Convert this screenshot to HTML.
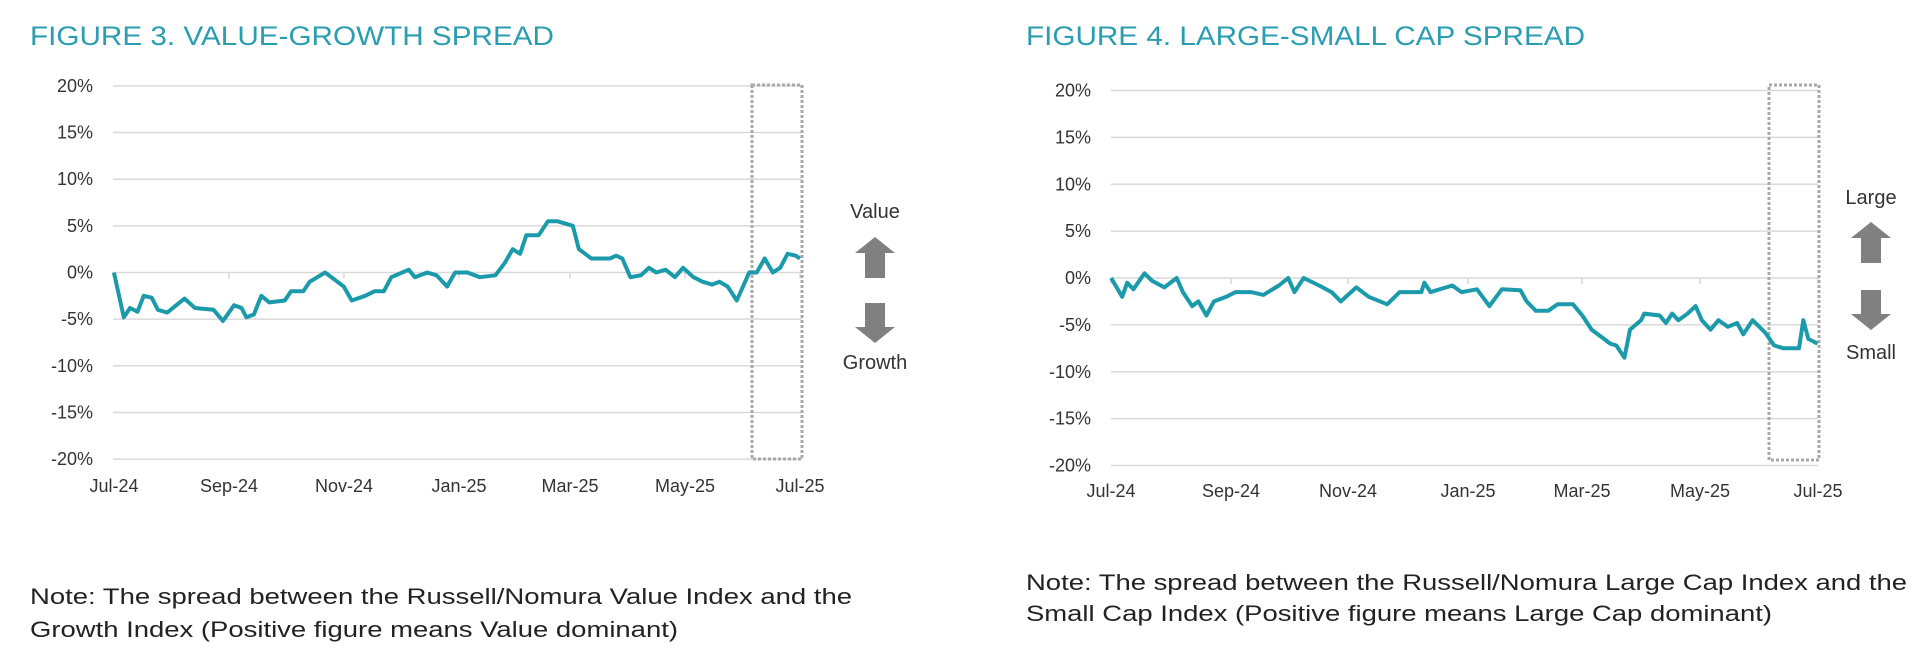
<!DOCTYPE html>
<html><head><meta charset="utf-8"><style>
html,body{margin:0;padding:0;background:#fff}
svg{display:block}
text{font-family:"Liberation Sans Narrow","Liberation Sans",Arial,sans-serif}
</style></head><body>
<svg id="s" width="1920" height="658" viewBox="0 0 1920 658" xmlns="http://www.w3.org/2000/svg">
<g id="grid"></g>
<text x="30" y="45" font-size="27" fill="#2a9db0" textLength="524" lengthAdjust="spacingAndGlyphs">FIGURE 3. VALUE-GROWTH SPREAD</text>
<text x="1026" y="45" font-size="27" fill="#2a9db0" textLength="559" lengthAdjust="spacingAndGlyphs">FIGURE 4. LARGE-SMALL CAP SPREAD</text>
<rect x="752" y="85" width="50" height="374" fill="none" stroke="#a8a8a8" stroke-width="3" stroke-dasharray="3,2"/>
<rect x="1769" y="85" width="50" height="375" fill="none" stroke="#a8a8a8" stroke-width="3" stroke-dasharray="3,2"/>
<path id="p1" fill="none" stroke="#1a9aaa" stroke-width="4" stroke-linejoin="round"/>
<path id="p2" fill="none" stroke="#1a9aaa" stroke-width="4" stroke-linejoin="round"/>
<text x="875" y="218" font-size="20" fill="#333" text-anchor="middle">Value</text>
<path d="M875,237 L895,253 L885,253 L885,278 L865,278 L865,253 L855,253 Z" fill="#808080"/>
<path d="M875,343 L895,327 L885,327 L885,303 L865,303 L865,327 L855,327 Z" fill="#808080"/>
<text x="875" y="369" font-size="20" fill="#333" text-anchor="middle">Growth</text>
<text x="1871" y="204" font-size="20" fill="#333" text-anchor="middle">Large</text>
<path d="M1871,222 L1891,238 L1881,238 L1881,263 L1861,263 L1861,238 L1851,238 Z" fill="#808080"/>
<path d="M1871,330 L1891,314 L1881,314 L1881,290 L1861,290 L1861,314 L1851,314 Z" fill="#808080"/>
<text x="1871" y="359" font-size="20" fill="#333" text-anchor="middle">Small</text>
<text x="30" y="604" font-size="22" fill="#222" textLength="822" lengthAdjust="spacingAndGlyphs">Note: The spread between the Russell/Nomura Value Index and the</text>
<text x="30" y="637" font-size="22" fill="#222" textLength="648" lengthAdjust="spacingAndGlyphs">Growth Index (Positive figure means Value dominant)</text>
<text x="1026" y="590" font-size="22" fill="#222" textLength="881" lengthAdjust="spacingAndGlyphs">Note: The spread between the Russell/Nomura Large Cap Index and the</text>
<text x="1026" y="621" font-size="22" fill="#222" textLength="746" lengthAdjust="spacingAndGlyphs">Small Cap Index (Positive figure means Large Cap dominant)</text>
</svg>
<script>
var NS="http://www.w3.org/2000/svg",g=document.getElementById("grid");
function el(t,a,txt){var e=document.createElementNS(NS,t);for(var k in a)e.setAttribute(k,a[k]);if(txt)e.textContent=txt;g.appendChild(e);return e;}
function chart(c){
 for(var i=0;i<9;i++){var v=20-5*i,y=c.y0-v*c.k;
  el("line",{x1:c.x0,x2:c.x1,y1:y,y2:y,stroke:"#d9d9d9","stroke-width":1.5});
  el("text",{x:c.lx,y:y+6,"font-size":18,fill:"#333","text-anchor":"end"},v+"%");}
 var L=["Jul-24","Sep-24","Nov-24","Jan-25","Mar-25","May-25","Jul-25"];
 for(var j=0;j<7;j++){el("text",{x:c.xs[j],y:c.ty,"font-size":18,fill:"#333","text-anchor":"middle"},L[j]);
  el("line",{x1:c.xs[j],x2:c.xs[j],y1:c.y0,y2:c.y0+6,stroke:"#d9d9d9","stroke-width":1.5});}
 var d="";for(var m=0;m<c.d.length;m+=2){var x=c.ox+c.d[m]/1.615,y=c.y0-c.d[m+1]*c.k;d+=(m?"L":"M")+x.toFixed(1)+","+y.toFixed(1);}
 document.getElementById(c.id).setAttribute("d",d);
}
chart({id:"p1",x0:113,x1:802,y0:272.5,k:9.33,lx:93,ty:492,ox:0,xs:[114,229,344,459,570,685,800],
d:[184,0,200,-4.8,210,-3.8,222,-4.2,232,-2.5,245,-2.7,255,-4,270,-4.3,298,-2.8,315,-3.8,345,-4,360,-5.2,378,-3.5,390,-3.8,398,-4.8,410,-4.5,422,-2.5,435,-3.2,460,-3,470,-2,490,-2,500,-1,525,0,545,-1,555,-1.5,568,-3,590,-2.5,605,-2,620,-2,632,-0.5,660,0.3,670,-0.5,690,0,705,-0.3,722,-1.5,735,0,755,0,775,-0.5,800,-0.3,815,1,828,2.5,840,2,850,4,870,4,885,5.5,900,5.5,925,5,935,2.5,945,2,955,1.5,985,1.5,995,1.8,1005,1.5,1018,-0.5,1035,-0.3,1048,0.5,1060,0,1075,0.3,1090,-0.5,1103,0.5,1120,-0.5,1135,-1,1150,-1.3,1162,-1,1175,-1.5,1190,-3,1200,-1.5,1210,0,1222,0,1235,1.5,1248,0,1260,0.5,1272,2,1285,1.8,1292,1.5]});
chart({id:"p2",x0:1111,x1:1818,y0:278,k:9.375,lx:1091,ty:497,ox:960,xs:[1111,1231,1348,1468,1582,1700,1818],
d:[244,0,262,-2,270,-0.5,280,-1.2,298,0.5,310,-0.3,330,-1,350,0,360,-1.5,375,-3,385,-2.5,398,-4,410,-2.5,430,-2,445,-1.5,470,-1.5,490,-1.8,515,-0.8,530,0,540,-1.5,555,0,580,-0.8,600,-1.5,615,-2.5,640,-1,660,-2,690,-2.8,710,-1.5,745,-1.5,750,-0.5,760,-1.5,795,-0.8,810,-1.5,835,-1.2,855,-3,875,-1.2,905,-1.3,915,-2.5,930,-3.5,950,-3.5,965,-2.8,990,-2.8,1005,-4,1020,-5.5,1040,-6.5,1050,-7,1060,-7.2,1073,-8.5,1082,-5.5,1100,-4.5,1105,-3.8,1130,-4,1140,-4.8,1150,-3.8,1160,-4.5,1175,-3.8,1188,-3,1198,-4.5,1212,-5.5,1225,-4.5,1240,-5.2,1255,-4.8,1265,-6,1280,-4.5,1300,-5.8,1315,-7.2,1330,-7.5,1355,-7.5,1362,-4.5,1370,-6.5,1385,-7]});
</script>
</body></html>
